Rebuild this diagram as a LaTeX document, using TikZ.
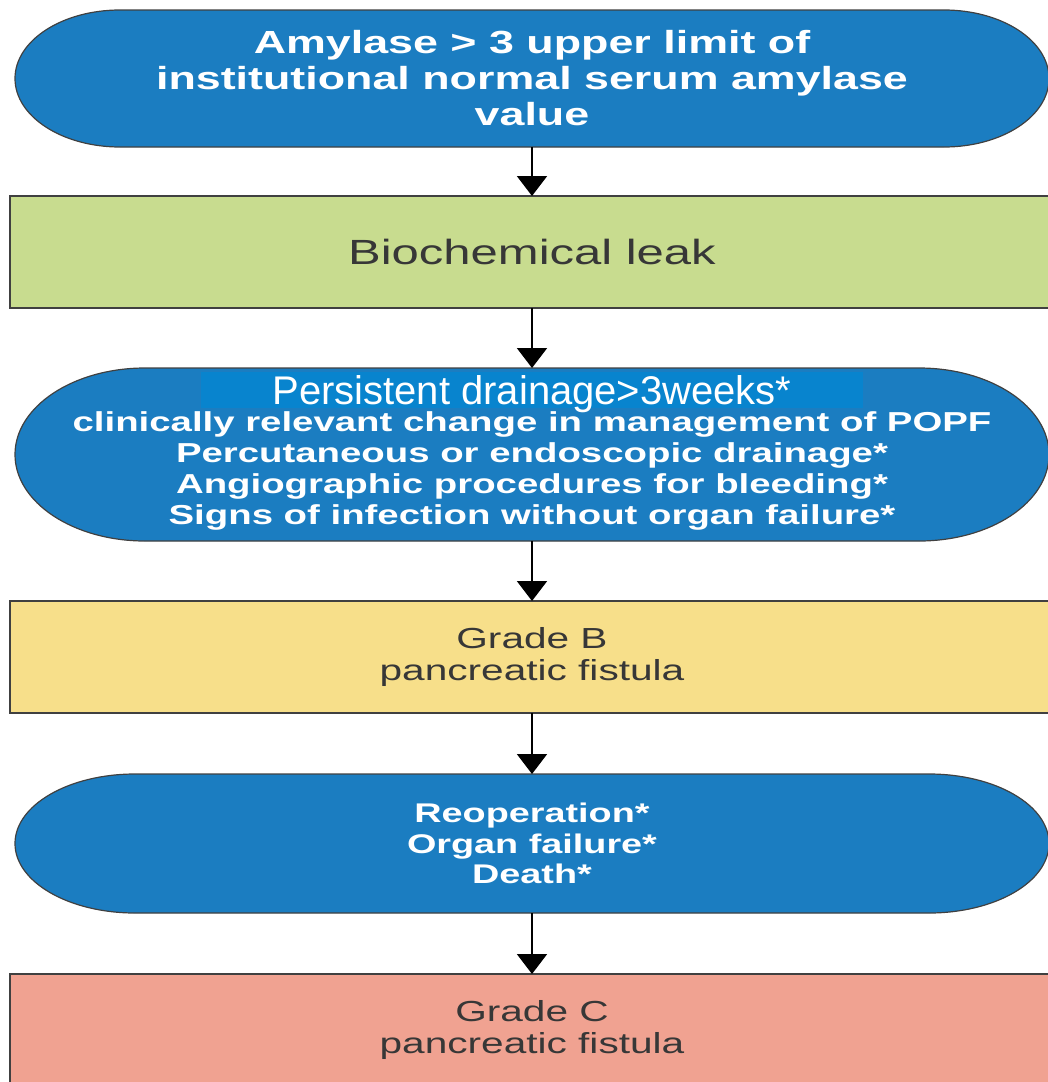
\documentclass[tikz,border=0pt]{standalone}
\usepackage{fontspec}
\setmainfont{Liberation Sans}
\newfontfamily\wideface{Liberation Sans}[FakeStretch=1.4]
\usetikzlibrary{positioning,calc,arrows.meta,backgrounds}

\definecolor{termblue}{RGB}{27,125,193}
\definecolor{headblue}{RGB}{8,132,206}
\definecolor{leakgreen}{RGB}{200,220,143}
\definecolor{gradeyellow}{RGB}{247,223,138}
\definecolor{gradered}{RGB}{240,162,145}
\definecolor{edgegray}{RGB}{64,64,64}
\definecolor{inkgray}{RGB}{55,55,55}

\begin{document}
\begin{tikzpicture}[x=1pt, y=1pt, node distance = 60pt,
  every node/.style={outer sep=0pt, inner sep=0pt, align=center},
  term/.style={minimum width=1034pt, text=white,
    font=\wideface\bfseries\fontsize{27.4}{31}\selectfont},
  termshape/.style={fill=termblue, draw=edgegray, line width=1.2pt},
  headbox/.style={fill=headblue, minimum width=662pt, text height=32pt,
    text depth=4pt, text=white, font=\fontsize{40}{44}\selectfont},
  gradebox/.style={draw=edgegray, line width=1.5pt, minimum width=1044pt,
    minimum height=112pt, text=inkgray,
    font=\wideface\fontsize{29}{32}\selectfont},
  arr/.style = {line width=2pt, -{Triangle[width=30pt,length=20pt]}}
  ]
  \useasboundingbox (0,0) rectangle (1048,-1082);

  \node[term, minimum height=137pt,
    font=\wideface\bfseries\fontsize{32}{36}\selectfont] (amy) at (532,-78.5)
    {Amylase > 3 upper limit of\\institutional normal serum amylase\\value};
  \node[gradebox, fill=leakgreen, font=\wideface\fontsize{35}{40}\selectfont,
    below=49pt of amy] (leak) {Biochemical leak};
  \node[term, minimum height=173pt, below=of leak] (pers) {};
  \node[headbox, below=4pt of pers.north] (drain) {Persistent drainage>3weeks*};
  \node[term, minimum width=0pt] (crit) at ([yshift=-16pt]pers.center)
    {clinically relevant change in management of POPF\\
     Percutaneous or endoscopic drainage*\\
     Angiographic procedures for bleeding*\\
     Signs of infection without organ failure*};
  \node[gradebox, fill=gradeyellow, below=of pers] (gradeB)
    {Grade B\\pancreatic fistula};
  \node[term, minimum height=139pt, font=\wideface\bfseries\fontsize{27}{30.5}\selectfont,
    below=61pt of gradeB] (reop) {Reoperation*\\Organ failure*\\Death*};
  \node[gradebox, fill=gradered, below=61pt of reop] (gradeC)
    {Grade C\\pancreatic fistula};

  % rounded ends of the blue boxes
  \begin{scope}[on background layer]
    \foreach \shp/\cap in {amy/105, pers/130, reop/120}
      \draw[termshape] let \p1=(\shp.north), \p2=(\shp.south),
        \n1={(\y1-\y2)/2} in
        ([xshift=\cap pt]\shp.north west) -- ([xshift=-\cap pt]\shp.north east)
        arc[start angle=90, end angle=-90, x radius=\cap pt, y radius=\n1]
        -- ([xshift=\cap pt]\shp.south west)
        arc[start angle=270, end angle=90, x radius=\cap pt, y radius=\n1] -- cycle;
  \end{scope}

  \draw[arr] (amy) -- (leak);
  \draw[arr] (leak) -- (pers);
  \draw[arr] (pers) -- (gradeB);
  \draw[arr] (gradeB) -- (reop);
  \draw[arr] (reop) -- (gradeC);
\end{tikzpicture}
\end{document}
